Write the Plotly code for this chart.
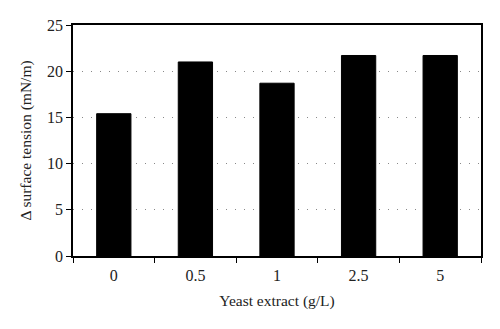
import plotly.graph_objects as go

# Yeast extract concentration (g/L) and the resulting drop in surface tension
categories = ["0", "0.5", "1", "2.5", "5"]
delta_tension = [15.4, 21.0, 18.7, 21.7, 21.7]
y_ticks = [0, 5, 10, 15, 20, 25]

serif = "Liberation Serif, Times New Roman, serif"

fig = go.Figure(
    go.Bar(
        x=categories,
        y=delta_tension,
        width=0.42,
        marker=dict(color="black", line=dict(color="black", width=1)),
    )
)

fig.update_layout(
    width=500,
    height=329,
    margin=dict(l=73, r=19, t=25, b=73),
    paper_bgcolor="white",
    plot_bgcolor="white",
    showlegend=False,
    font=dict(family=serif, size=16, color="#222"),
)

fig.update_xaxes(
    type="category",
    tickson="boundaries",
    ticks="outside",
    ticklen=5,
    tickcolor="black",
    showline=True,
    linecolor="black",
    linewidth=1.5,
    mirror=True,
    showgrid=False,
    ticklabelstandoff=4,
    title=dict(text="Yeast extract (g/L)", standoff=12, font=dict(family=serif, size=15.5)),
    tickfont=dict(family=serif, size=16),
)

fig.update_yaxes(
    range=[0, 25],
    tickvals=y_ticks,
    ticks="outside",
    ticklen=5,
    tickcolor="black",
    showline=True,
    linecolor="black",
    linewidth=1.5,
    mirror=True,
    showgrid=True,
    gridcolor="#888",
    gridwidth=1,
    griddash="1px,8px",
    zeroline=False,
    title=dict(text="Δ surface tension (mN/m)", standoff=12, font=dict(family=serif, size=15.5)),
    tickfont=dict(family=serif, size=16),
)

fig.write_html("out.html")
